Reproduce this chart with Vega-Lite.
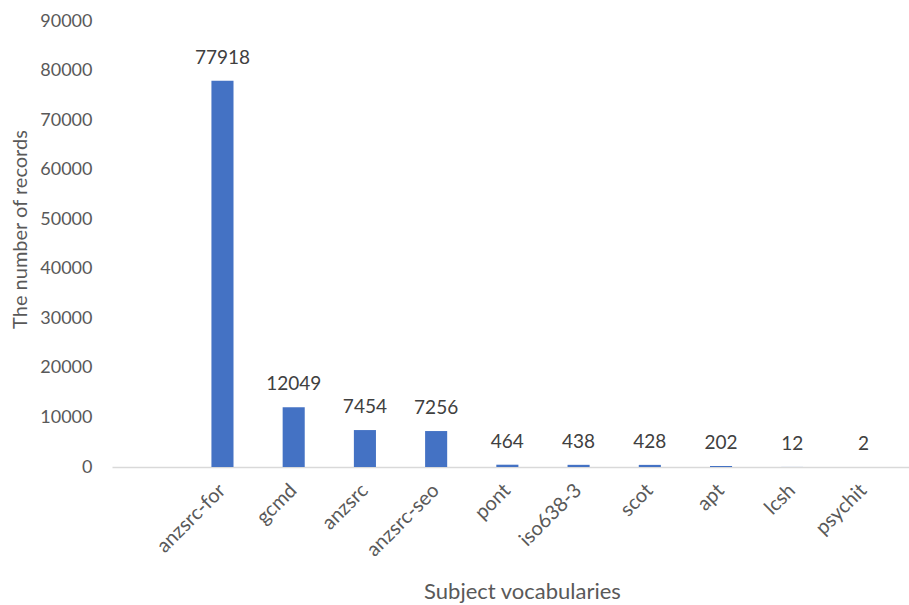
{
  "$schema": "https://vega.github.io/schema/vega-lite/v6.json",
  "autosize": "none",
  "width": 797,
  "height": 446,
  "padding": {"left": 112, "top": 21, "right": 0, "bottom": 138},
  "background": "white",
  "config": {"view": {"stroke": null}, "font": "Lato"},
  "data": {"values": [
    {"vocab": "anzsrc-for", "records": 77918},
    {"vocab": "gcmd", "records": 12049},
    {"vocab": "anzsrc", "records": 7454},
    {"vocab": "anzsrc-seo", "records": 7256},
    {"vocab": "pont", "records": 464},
    {"vocab": "iso638-3", "records": 438},
    {"vocab": "scot", "records": 428},
    {"vocab": "apt", "records": 202},
    {"vocab": "lcsh", "records": 12},
    {"vocab": "psychit", "records": 2}
  ]},
  "encoding": {
    "x": {
      "field": "vocab", "type": "nominal", "sort": null,
      "scale": {"domain": ["", "anzsrc-for", "gcmd", "anzsrc", "anzsrc-seo", "pont", "iso638-3", "scot", "apt", "lcsh", "psychit"], "paddingInner": 0.69, "paddingOuter": 0.44, "align": 0.45},
      "axis": {
        "title": "Subject vocabularies", "titleFont": "Lato", "titleFontSize": 22, "titleFontWeight": "normal", "titleColor": "#595959",
        "titleX": 410, "titleY": 131, "titleBaseline": "alphabetic", "titleAlign": "center",
        "labelAngle": -45, "labelAlign": "right", "labelBaseline": "middle", "labelFontSize": 20, "labelColor": "#595959", "labelPadding": 20,
        "ticks": false, "domainColor": "#d9d9d9", "domainWidth": 1.5
      }
    },
    "y": {
      "field": "records", "type": "quantitative",
      "scale": {"domain": [0, 90000], "nice": false},
      "axis": {
        "title": "The number of records", "titleFont": "Lato", "titleFontSize": 20, "titleFontWeight": "normal", "titleColor": "#595959",
        "titleX": -86, "titleY": 208, "titleAngle": -90, "titleBaseline": "alphabetic", "titleAlign": "center",
        "values": [0, 10000, 20000, 30000, 40000, 50000, 60000, 70000, 80000, 90000],
        "format": "d", "labelFontSize": 18, "labelColor": "#595959", "labelPadding": 20,
        "ticks": false, "domain": false, "grid": false
      }
    }
  },
  "layer": [
    {"mark": {"type": "bar", "color": "#4472C4"}},
    {"mark": {"type": "text", "baseline": "bottom", "dy": -13, "fontSize": 19, "color": "#404040", "font": "Lato"},
     "encoding": {"text": {"field": "records", "type": "quantitative", "format": "d"}}}
  ]
}
